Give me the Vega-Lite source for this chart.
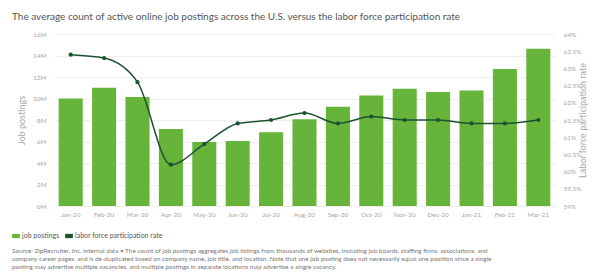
{
  "$schema": "https://vega.github.io/schema/vega-lite/v6.json",
  "width": 501,
  "height": 172,
  "autosize": {"type": "none"},
  "padding": {"left": 54, "top": 34, "right": 42, "bottom": 70},
  "background": "white",
  "config": {
    "font": "Lato",
    "view": {"stroke": null},
    "axis": {"labelColor": "#a8a8a8", "titleColor": "#a8a8a8", "labelFontSize": 6.5, "titleFontWeight": "normal", "titleFontSize": 9, "domain": false, "ticks": false, "labelOverlap": false}
  },
  "title": {
    "text": "The average count of active online job postings across the U.S. versus the labor force participation rate",
    "anchor": "start",
    "frame": "group",
    "dx": -42,
    "offset": 9,
    "fontSize": 10,
    "fontWeight": "normal",
    "color": "#555555"
  },
  "data": {
    "values": [
      {"month": "Jan-20", "postings": 10000000, "lfpr": 63.4},
      {"month": "Feb-20", "postings": 11000000, "lfpr": 63.3},
      {"month": "Mar-20", "postings": 10150000, "lfpr": 62.6},
      {"month": "Apr-20", "postings": 7170000, "lfpr": 60.2},
      {"month": "May-20", "postings": 5960000, "lfpr": 60.8},
      {"month": "Jun-20", "postings": 6050000, "lfpr": 61.4},
      {"month": "Jul-20", "postings": 6870000, "lfpr": 61.5},
      {"month": "Aug-20", "postings": 8080000, "lfpr": 61.7},
      {"month": "Sep-20", "postings": 9230000, "lfpr": 61.4},
      {"month": "Oct-20", "postings": 10280000, "lfpr": 61.6},
      {"month": "Nov-20", "postings": 10900000, "lfpr": 61.5},
      {"month": "Dec-20", "postings": 10600000, "lfpr": 61.5},
      {"month": "Jan-21", "postings": 10750000, "lfpr": 61.4},
      {"month": "Feb-21", "postings": 12740000, "lfpr": 61.4},
      {"month": "Mar-21", "postings": 14630000, "lfpr": 61.5}
    ]
  },
  "encoding": {
    "x": {
      "field": "month",
      "type": "ordinal",
      "sort": null,
      "scale": {"paddingInner": 0.28, "paddingOuter": 0.14},
      "axis": {"title": null, "labelAngle": 0, "labelPadding": 5, "grid": false}
    }
  },
  "layer": [
    {
      "mark": {"type": "bar"},
      "encoding": {
        "y": {
          "field": "postings",
          "type": "quantitative",
          "scale": {"domain": [0, 16000000]},
          "axis": {
            "title": "Job postings",
            "values": [0, 2000000, 4000000, 6000000, 8000000, 10000000, 12000000, 14000000, 16000000],
            "labelExpr": "datum.value / 1000000 + 'M'",
            "gridColor": "#eeeeee",
            "labelPadding": 8,
            "titlePadding": 6
          }
        },
        "color": {
          "datum": "job postings",
          "type": "nominal",
          "scale": {"domain": ["job postings", "labor force participation rate"], "range": ["#67b43a", "#1d5230"]},
          "legend": {
            "orient": "none",
            "legendX": -42,
            "legendY": 198,
            "direction": "horizontal",
            "symbolType": "M-1,-0.55H1V0.55H-1Z",
            "symbolSize": 60,
            "symbolStrokeWidth": 0,
            "labelFontSize": 7,
            "labelColor": "#555555",
            "columnPadding": 5,
            "labelOffset": 2,
            "title": [
              "Source: ZipRecruiter, Inc. internal data • The count of job postings aggregates job listings from thousands of websites, including job boards, staffing firms, associations, and",
              "company career pages, and is de-duplicated based on company name, job title, and location. Note that one job posting does not necessarily equal one position since a single",
              "posting may advertise multiple vacancies, and multiple postings in separate locations may advertise a single vacancy."
            ],
            "titleOrient": "bottom",
            "titleFontSize": 6.4,
            "titleFontWeight": "normal",
            "titleColor": "#777777",
            "titleLimit": 600,
            "titlePadding": 9,
            "titleLineHeight": 8
          }
        }
      }
    },
    {
      "mark": {"type": "line", "interpolate": "monotone", "strokeWidth": 1.5, "point": {"filled": true, "size": 18}},
      "encoding": {
        "y": {
          "field": "lfpr",
          "type": "quantitative",
          "scale": {"domain": [59, 64]},
          "axis": {
            "orient": "right",
            "title": "Labor force participation rate",
            "titleAngle": 270,
            "values": [59, 59.5, 60, 60.5, 61, 61.5, 62, 62.5, 63, 63.5, 64],
            "labelExpr": "datum.value + '%'",
            "grid": false,
            "labelPadding": 8,
            "titlePadding": 6
          }
        },
        "color": {"datum": "labor force participation rate", "type": "nominal"}
      }
    }
  ],
  "resolve": {"scale": {"y": "independent"}}
}
